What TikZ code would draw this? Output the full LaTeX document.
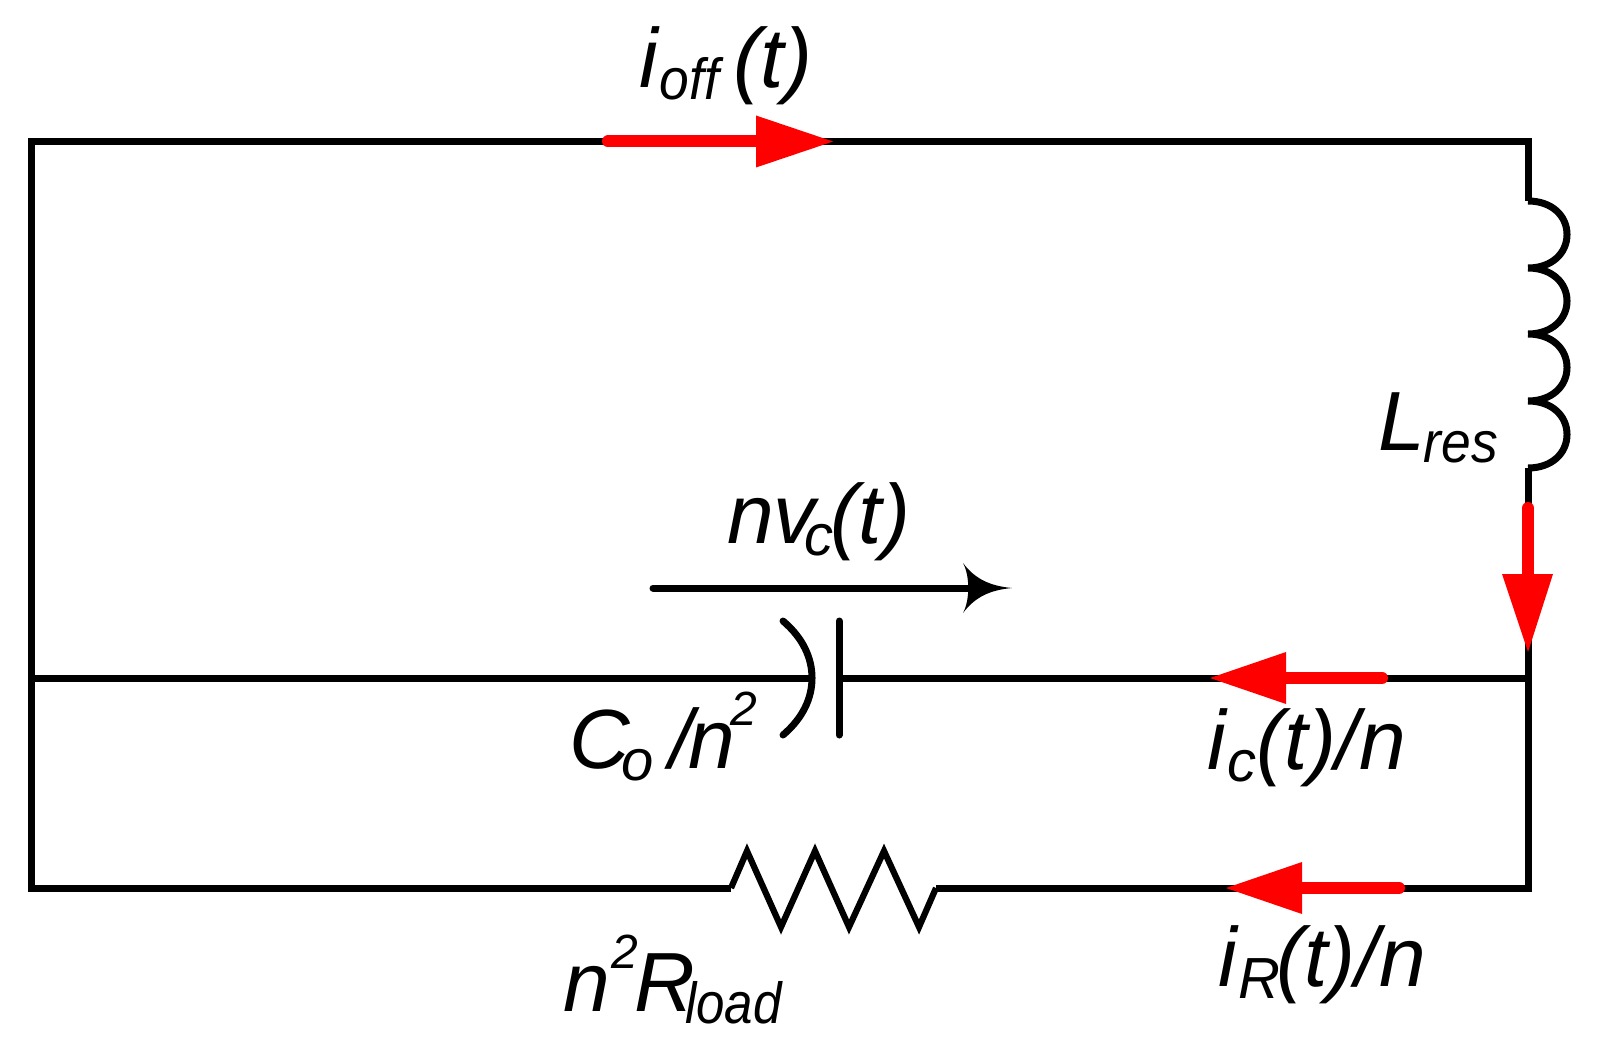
\documentclass[tikz,border=0pt]{standalone}
\usepackage{fontspec}
\setmainfont{Liberation Sans}
\newlength\pxu \pxu=.5pt
\newcommand\hk[1]{\kern #1\pxu}
\newcommand\subt[2][1]{\raisebox{-12\pxu}{\scalebox{#1}[1]{\fontsize{29pt}{29pt}\selectfont #2}}}
\newcommand\supt{\raisebox{43\pxu}{\fontsize{24pt}{24pt}\selectfont 2}}
\definecolor{cred}{RGB}{255,0,0}
\tikzset{
  wire/.style={line width=3.5pt,line cap=butt,line join=miter,black},
  thin wire/.style={line width=3.1pt,line join=miter,black},
  shaft/.style={line width=6pt,cred,line cap=round},
  headfill/.style={fill=cred,draw=none},
  lab/.style={anchor=base west,inner sep=0pt,outer sep=0pt,font=\fontsize{42pt}{42pt}\selectfont\itshape,text=black},
}
\begin{document}
\begin{tikzpicture}[x=.5pt,y=-.5pt]
\useasboundingbox (0,0) rectangle (1598,1043);
% circuit points
\coordinate (tl) at (31,141.5);
\coordinate (tr) at (1528,141.5);
\coordinate (ml) at (31,678);
\coordinate (mr) at (1528,678);
\coordinate (bl) at (31,888);
\coordinate (br) at (1528,888);
\coordinate (lA) at (1528,201);
\coordinate (lB) at (1528,268);
\coordinate (lC) at (1528,334);
\coordinate (lD) at (1528,401);
\coordinate (lE) at (1528,468);
\coordinate (capL) at (812,678);
\coordinate (capR) at (839,678);
\coordinate (capT) at (839,621);
\coordinate (capB) at (839,735);
\coordinate (arcT) at (783,621);
\coordinate (arcB) at (783,735);
\coordinate (rA) at (731,888);
\coordinate (rB) at (936,888);
% wires
\draw[wire] (lA) -- (tr) -- (tl) -- (bl) -- (rA);
\draw[wire] (rB) -- (br) -- (lE);
\draw[wire] (ml) -- (capL);
\draw[wire] (capR) -- (mr);
\draw[wire,line cap=round] (capT) -- (capB);
\draw[wire,line cap=round] (arcT) .. controls (803,638) and (812,658) .. (capL) .. controls (812,698) and (803,718) .. (arcB);
\draw[thin wire] (rA) -- (747,851) -- (781,927) -- (815,851) -- (849,927) -- (884,851) -- (919,927) -- (rB);
\draw[wire]
  (lA) .. controls (1552,201) and (1567,216) .. (1567,234.5) .. controls (1567,253) and (1552,268) .. (lB)
  (lB) .. controls (1552,268) and (1567,283) .. (1567,301) .. controls (1567,319) and (1552,334) .. (lC)
  (lC) .. controls (1552,334) and (1567,349) .. (1567,367.5) .. controls (1567,386) and (1552,401) .. (lD)
  (lD) .. controls (1552,401) and (1567,416) .. (1567,434.5) .. controls (1567,453) and (1552,468) .. (lE);
% voltage arrow
\coordinate (vS) at (653,588);
\coordinate (vT) at (1012,588);
\draw[wire,line cap=round] (vS) -- (970,588);
\fill[black] (vT) .. controls (990,590) and (975,597) .. (963,613) .. controls (970,600) and (970,576) .. (963,563) .. controls (975,579) and (990,586) .. (vT) -- cycle;
% current arrows: shaft start, head base, tip
\coordinate (a1s) at (608,141.5); \coordinate (a1b) at (756,141.5); \coordinate (a1e) at (833,141.5);
\coordinate (a2s) at (1528,508); \coordinate (a2b) at (1528,574); \coordinate (a2e) at (1528,652);
\coordinate (a3s) at (1382,678); \coordinate (a3b) at (1286,678); \coordinate (a3e) at (1210,678);
\coordinate (a4s) at (1399,888); \coordinate (a4b) at (1302,888); \coordinate (a4e) at (1226,888);
\draw[shaft] (a1s) -- (a1b);
\draw[shaft] (a2s) -- (a2b);
\draw[shaft] (a3s) -- (a3b);
\draw[shaft] (a4s) -- (a4b);
\path[headfill] (a1e) -- (756,115.5) -- (756,167.5) -- cycle;
\path[headfill] (a2e) -- (1502,574) -- (1553,574) -- cycle;
\path[headfill] (a3e) -- (1286,652) -- (1286,704) -- cycle;
\path[headfill] (a4e) -- (1302,862) -- (1302,914) -- cycle;
% labels
\node[lab] (ioff) at (639,88) {i\hk{2}\subt[.92]{off}\hk{14}(t)};
\node[lab] (lres) at (1378,450) {L\hk{-1}\subt[.92]{res}};
\node[lab] (nvc) at (727,543) {nv\hk{-11}\subt{c}\hk{-3}(t)};
\node[lab] (cap) at (569,768) {C\hk{-8}\subt{o}\hk{16}/\hk{-5}n\hk{-4}\supt};
\node[lab] (ic) at (1207,769) {i\hk{2}\subt{c}\hk{0}(t)/n};
\node[lab] (ir) at (1218,986) {i\hk{2}\subt{R}\hk{-4}(t)/n};
\node[lab] (rl) at (563,1011) {n\hk{2}\supt\hk{-4}R\hk{-10}\subt[.88]{load}};
\end{tikzpicture}
\end{document}
